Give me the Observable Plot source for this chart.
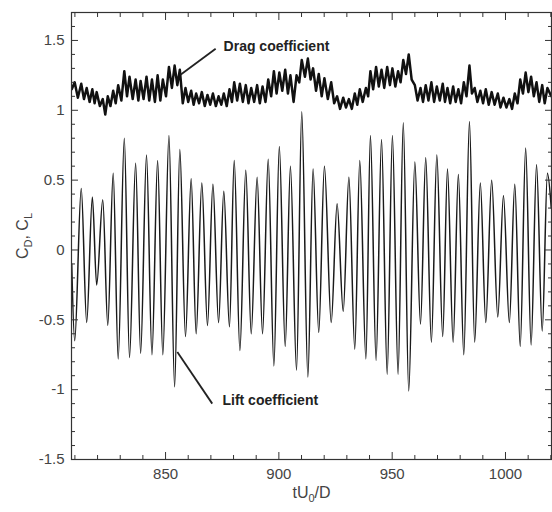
<!DOCTYPE html>
<html><head><meta charset="utf-8">
<script src="https://cdn.jsdelivr.net/npm/d3@7"></script>
<script src="https://cdn.jsdelivr.net/npm/@observablehq/plot@0.6"></script>
<style>body{margin:0;background:#fff;} svg{display:block;}</style>
</head><body><div id="chart"></div>
<script>
// Lift coefficient extrema (time tU0/D, value)
const liftT = [808.6,809.9,812.8,815.2,817.7,819.6,822.3,824.5,826.9,829.1,831.8,834.1,836.8,839.0,841.6,844.0,846.5,848.8,851.5,854.0,856.3,858.8,861.3,863.5,866.0,868.5,870.9,873.4,875.7,878.2,880.3,882.8,885.4,887.8,890.4,892.8,895.3,897.8,900.2,902.8,905.1,907.8,910.1,912.8,915.1,917.6,920.1,923.1,925.7,928.4,930.9,933.5,935.7,938.4,940.4,942.9,945.3,947.8,950.1,952.6,954.9,957.3,960.0,962.5,964.8,967.3,969.7,972.3,974.4,976.9,979.2,981.6,984.1,986.4,988.9,991.3,993.9,996.6,999.1,1001.7,1004.1,1006.5,1008.9,1011.3,1013.7,1016.2,1018.5,1020.2];
const liftV = [-0.10,-0.65,0.44,-0.52,0.38,-0.25,0.36,-0.54,0.55,-0.78,0.80,-0.77,0.62,-0.74,0.68,-0.75,0.64,-0.75,0.82,-0.98,0.72,-0.62,0.51,-0.60,0.48,-0.54,0.47,-0.52,0.42,-0.55,0.64,-0.72,0.57,-0.60,0.52,-0.60,0.65,-0.83,0.74,-0.69,0.60,-0.86,0.99,-0.91,0.58,-0.59,0.60,-0.52,0.33,-0.44,0.52,-0.71,0.64,-0.78,0.82,-0.79,0.79,-0.89,0.82,-0.89,0.91,-1.01,0.63,-0.53,0.66,-0.66,0.68,-0.62,0.58,-0.66,0.54,-0.75,0.92,-0.66,0.48,-0.52,0.50,-0.48,0.39,-0.52,0.47,-0.69,0.73,-0.68,0.61,-0.58,0.55,0.30];

// Drag coefficient extrema (time tU0/D, value)
const dragT = [808.6,809.9,811.3,812.8,814.0,815.2,816.5,817.7,818.7,819.6,821.0,822.3,823.4,824.5,825.7,826.9,828.0,829.1,830.5,831.8,833.0,834.1,835.5,836.8,838.0,839.0,840.3,841.6,842.8,844.0,845.3,846.5,847.7,848.8,850.2,851.5,852.8,854.0,855.2,856.3,857.6,858.8,860.0,861.3,862.4,863.5,864.8,866.0,867.3,868.5,869.7,870.9,872.2,873.4,874.6,875.7,877.0,878.2,879.3,880.3,881.6,882.8,884.1,885.4,886.6,887.8,889.1,890.4,891.6,892.8,894.1,895.3,896.6,897.8,899.0,900.2,901.5,902.8,904.0,905.1,906.5,907.8,909.0,910.1,911.5,912.8,914.0,915.1,916.4,917.6,918.9,920.1,921.6,923.1,924.4,925.7,927.0,928.4,929.6,930.9,932.2,933.5,934.6,935.7,937.0,938.4,939.4,940.4,941.6,942.9,944.1,945.3,946.5,947.8,949.0,950.1,951.4,952.6,953.7,954.9,956.1,957.3,958.6,960.0,961.2,962.5,963.6,964.8,966.0,967.3,968.5,969.7,971.0,972.3,973.3,974.4,975.6,976.9,978.0,979.2,980.4,981.6,982.8,984.1,985.2,986.4,987.6,988.9,990.1,991.3,992.6,993.9,995.2,996.6,997.8,999.1,1000.4,1001.7,1002.9,1004.1,1005.3,1006.5,1007.7,1008.9,1010.1,1011.3,1012.5,1013.7,1014.9,1016.2,1017.3,1018.5,1020.2];
const dragV = [1.15,1.20,1.09,1.19,1.08,1.16,1.06,1.15,1.05,1.13,1.03,1.08,0.97,1.10,1.03,1.14,1.05,1.18,1.07,1.28,1.10,1.24,1.08,1.22,1.07,1.21,1.08,1.24,1.07,1.22,1.06,1.25,1.07,1.22,1.10,1.31,1.16,1.32,1.18,1.29,1.05,1.16,1.06,1.14,1.04,1.12,1.05,1.13,1.03,1.11,1.04,1.12,1.03,1.10,1.04,1.12,1.03,1.15,1.06,1.20,1.07,1.19,1.06,1.18,1.05,1.16,1.06,1.18,1.05,1.17,1.06,1.22,1.10,1.28,1.12,1.27,1.14,1.29,1.12,1.25,1.06,1.25,1.20,1.36,1.24,1.37,1.22,1.30,1.14,1.26,1.10,1.23,1.08,1.20,1.05,1.10,1.01,1.09,1.02,1.08,1.01,1.12,1.04,1.15,1.06,1.16,1.10,1.28,1.15,1.31,1.17,1.29,1.16,1.31,1.18,1.30,1.17,1.28,1.20,1.36,1.26,1.40,1.22,1.18,1.07,1.16,1.06,1.18,1.07,1.20,1.06,1.17,1.07,1.19,1.06,1.16,1.05,1.17,1.06,1.15,1.05,1.20,1.10,1.32,1.12,1.16,1.06,1.14,1.05,1.15,1.04,1.13,1.04,1.12,1.02,1.09,1.02,1.08,1.01,1.12,1.05,1.22,1.12,1.27,1.13,1.24,1.10,1.20,1.06,1.18,1.05,1.16,1.10];

// Axis ticks and labels
const xMajorTicks = [850, 900, 950, 1000];
const xTickLabels = ["850", "900", "950", "1000"];
const xMinorTicks = [810,820,830,840,860,870,880,890,910,920,930,940,960,970,980,990,1010,1020];
const yMajorTicks = [-1.5, -1, -0.5, 0, 0.5, 1, 1.5];
const yTickLabels = ["-1.5", "-1", "-0.5", "0", "0.5", "1", "1.5"];
const yMinorTicks = [-1.4,-1.3,-1.2,-1.1,-0.9,-0.8,-0.7,-0.6,-0.4,-0.3,-0.2,-0.1,0.1,0.2,0.3,0.4,0.6,0.7,0.8,0.9,1.1,1.2,1.3,1.4,1.6];

// Annotations
const annLabels = ["Drag coefficient", "Lift coefficient"];
const annT = [875.6, 875.1];
const annV = [1.455, -1.075];
const leaderFromT = [856.6, 855.2];
const leaderFromV = [1.255, -0.73];
const leaderToT = [872.1, 870.6];
const leaderToV = [1.44, -1.10];

const lift = liftT.map((t, i) => ({t, v: liftV[i]}));
const drag = dragT.map((t, i) => ({t, v: dragV[i]}));
const ann = annLabels.map((s, i) => ({s, t: annT[i], v: annV[i], t1: leaderFromT[i], v1: leaderFromV[i], t2: leaderToT[i], v2: leaderToV[i]}));

const xFmt = d => xTickLabels[xMajorTicks.indexOf(d)];
const yFmt = d => yTickLabels[yMajorTicks.indexOf(d)];
const tickStroke = "#333";

const chart = Plot.plot({
  width: 552, height: 512,
  marginLeft: 71, marginRight: 1, marginTop: 12, marginBottom: 53,
  style: {fontFamily: "'Liberation Sans', Arial, sans-serif", background: "#fff", color: "#333"},
  x: {domain: [808.5, 1020.3]},
  y: {domain: [-1.5, 1.7]},
  marks: [
    Plot.line(lift, {x: "t", y: "v", stroke: "#1a1a1a", strokeWidth: 1.5, curve: "monotone-x", clip: true}),
    Plot.line(drag, {x: "t", y: "v", stroke: "#111", strokeWidth: 2.5, clip: true}),
    Plot.link(ann, {x1: "t1", y1: "v1", x2: "t2", y2: "v2", stroke: "#222", strokeWidth: 1.8}),
    Plot.text(ann, {x: "t", y: "v", text: "s", textAnchor: "start", fontSize: 14, fontWeight: "bold", fill: "#222"}),
    Plot.frame({stroke: "#333", strokeWidth: 1.2}),
    // bottom axis labels
    Plot.axisX(xMajorTicks, {anchor: "bottom", tickSize: 0, tickPadding: 9, tickFormat: xFmt, fontSize: 15, fill: "#444",
      label: "tU0/D", labelAnchor: "center", labelOffset: 38, labelArrow: "none"}),
    // inward ticks (shifted by their own length)
    Plot.axisX(xMajorTicks, {anchor: "bottom", tickSize: 7, dy: -7, text: null, label: null, stroke: tickStroke}),
    Plot.axisX(xMinorTicks, {anchor: "bottom", tickSize: 4, dy: -4, text: null, label: null, stroke: tickStroke}),
    Plot.axisX(xMajorTicks, {anchor: "top", tickSize: 7, dy: 7, text: null, label: null, stroke: tickStroke}),
    Plot.axisX(xMinorTicks, {anchor: "top", tickSize: 4, dy: 4, text: null, label: null, stroke: tickStroke}),
    // left axis labels
    Plot.axisY(yMajorTicks, {anchor: "left", tickSize: 0, tickPadding: 7, tickFormat: yFmt, fontSize: 15, fill: "#444",
      label: "CD, CL", labelAnchor: "center", labelOffset: 55, labelArrow: "none"}),
    Plot.axisY(yMajorTicks, {anchor: "left", tickSize: 7, dx: 7, text: null, label: null, stroke: tickStroke}),
    Plot.axisY(yMinorTicks, {anchor: "left", tickSize: 4, dx: 4, text: null, label: null, stroke: tickStroke}),
    Plot.axisY(yMajorTicks, {anchor: "right", tickSize: 7, dx: -7, text: null, label: null, stroke: tickStroke}),
    Plot.axisY(yMinorTicks, {anchor: "right", tickSize: 4, dx: -4, text: null, label: null, stroke: tickStroke})
  ]
});
document.getElementById("chart").append(chart);

// subscripts in axis labels
const svg = d3.select(chart);
svg.selectAll('g[aria-label="x-axis label"] text')
  .attr("font-size", 16)
  .html('tU<tspan dy="4" font-size="11">0</tspan><tspan dy="-4">/D</tspan>');
svg.selectAll('g[aria-label="y-axis label"] text')
  .attr("font-size", 16)
  .html('C<tspan dy="4" font-size="11">D</tspan><tspan dy="-4">, C</tspan><tspan dy="4" font-size="11">L</tspan>');
</script>
</body></html>
